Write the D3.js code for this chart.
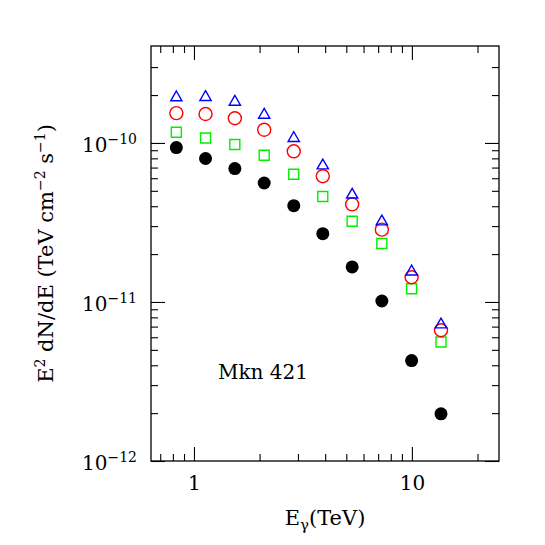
<!DOCTYPE html>
<html>
<head>
<meta charset="utf-8">
<script src="https://cdn.jsdelivr.net/npm/d3@7"></script>
<style>
  body { margin: 0; background: #fff; }
  svg text { font-family: "DejaVu Serif", serif; fill: #000; }
</style>
</head>
<body>
<div id="chart"></div>
<script>
// ---------------- data ----------------
const energies = [0.83, 1.13, 1.54, 2.10, 2.87, 3.90, 5.32, 7.28, 9.97, 13.6];
const fluxBlack = [9.35e-11, 7.98e-11, 6.90e-11, 5.60e-11, 4.03e-11, 2.69e-11, 1.66e-11, 1.014e-11, 4.28e-12, 1.98e-12];
const fluxGreen = [1.167e-10, 1.074e-10, 9.77e-11, 8.37e-11, 6.35e-11, 4.60e-11, 3.22e-11, 2.33e-11, 1.21e-11, 5.60e-12];
const fluxRed   = [1.54e-10, 1.52e-10, 1.43e-10, 1.21e-10, 8.86e-11, 6.18e-11, 4.11e-11, 2.85e-11, 1.43e-11, 6.64e-12];
const fluxBlue  = [1.93e-10, 1.94e-10, 1.81e-10, 1.50e-10, 1.07e-10, 7.20e-11, 4.72e-11, 3.20e-11, 1.55e-11, 7.20e-12];
const xMajor = [1, 10];
const xMinor = [0.7, 0.8, 0.9, 2, 3, 4, 5, 6, 7, 8, 9, 20];
const yMajor = [1e-12, 1e-11, 1e-10];
const yMinor = [2e-12, 3e-12, 4e-12, 5e-12, 6e-12, 7e-12, 8e-12, 9e-12,
                2e-11, 3e-11, 4e-11, 5e-11, 6e-11, 7e-11, 8e-11, 9e-11,
                2e-10, 3e-10];
const yExponents = [-12, -11, -10];
const sourceName = "Mkn 421";

// ---------------- layout ----------------
const W = 545, H = 545;
const margin = { top: 46, right: 46, bottom: 84, left: 151 };
const width = W - margin.left - margin.right;
const height = H - margin.top - margin.bottom;

const svg = d3.select("#chart").append("svg")
    .attr("width", W).attr("height", H);
const g = svg.append("g")
    .attr("transform", "translate(" + margin.left + "," + margin.top + ")");

// ---------------- scales ----------------
const x = d3.scaleLog().domain([0.635, 25.1]).range([0, width]);
const y = d3.scaleLog().domain([1e-12, 4.07e-10]).range([height, 0]);

// ---------------- axes (ticks inward on all sides) ----------------
function styleAxis(sel) {
    sel.select(".domain").remove();
    sel.selectAll("line").attr("stroke", "#000").attr("stroke-width", 1.1);
}
const MAJ = 14, MIN = 7;

g.append("g").attr("transform", "translate(0," + height + ")")
    .call(d3.axisBottom(x).tickValues(xMajor).tickSize(-MAJ).tickPadding(15)
        .tickFormat(d3.format("d")))
    .call(styleAxis)
    .selectAll("text").style("font-size", "20px").attr("font-family", null);
g.append("g").attr("transform", "translate(0," + height + ")")
    .call(d3.axisBottom(x).tickValues(xMinor).tickSize(-MIN).tickFormat(""))
    .call(styleAxis);
g.append("g")
    .call(d3.axisTop(x).tickValues(xMajor).tickSize(-MAJ).tickFormat(""))
    .call(styleAxis);
g.append("g")
    .call(d3.axisTop(x).tickValues(xMinor).tickSize(-MIN).tickFormat(""))
    .call(styleAxis);

g.append("g")
    .call(d3.axisLeft(y).tickValues(yMajor).tickSize(-MAJ).tickFormat(""))
    .call(styleAxis);
g.append("g")
    .call(d3.axisLeft(y).tickValues(yMinor).tickSize(-MIN).tickFormat(""))
    .call(styleAxis);
g.append("g").attr("transform", "translate(" + width + ",0)")
    .call(d3.axisRight(y).tickValues(yMajor).tickSize(-MAJ).tickFormat(""))
    .call(styleAxis);
g.append("g").attr("transform", "translate(" + width + ",0)")
    .call(d3.axisRight(y).tickValues(yMinor).tickSize(-MIN).tickFormat(""))
    .call(styleAxis);

// y tick labels 10^n
const yLab = g.append("g").selectAll("text")
    .data(yExponents).enter().append("text")
    .attr("x", -14)
    .attr("y", function(d) { return y(Math.pow(10, d)) + 9; })
    .attr("text-anchor", "end")
    .style("font-size", "20px");
yLab.append("tspan").text("10");
yLab.append("tspan").attr("dy", -8).style("font-size", "14px")
    .text(function(d) { return "\u2212" + Math.abs(d); });

// frame
g.append("rect")
    .attr("width", width).attr("height", height)
    .attr("fill", "none").attr("stroke", "#000").attr("stroke-width", 1.3);

// ---------------- markers ----------------
const pts = function(arr) {
    return arr.map(function(v, i) { return { e: energies[i], f: v }; });
};

g.append("g").selectAll("circle").data(pts(fluxBlack)).enter().append("circle")
    .attr("cx", function(d) { return x(d.e); })
    .attr("cy", function(d) { return y(d.f); })
    .attr("r", 6.5).attr("fill", "#000");

g.append("g").selectAll("path").data(pts(fluxGreen)).enter().append("path")
    .attr("d", d3.symbol(d3.symbolSquare, 100))
    .attr("transform", function(d) { return "translate(" + x(d.e) + "," + y(d.f) + ")"; })
    .attr("fill", "none").attr("stroke", "#00ee00").attr("stroke-width", 1.4);

g.append("g").selectAll("circle").data(pts(fluxRed)).enter().append("circle")
    .attr("cx", function(d) { return x(d.e); })
    .attr("cy", function(d) { return y(d.f); })
    .attr("r", 6.5).attr("fill", "none").attr("stroke", "#ff0000").attr("stroke-width", 1.4);

g.append("g").selectAll("path").data(pts(fluxBlue)).enter().append("path")
    .attr("d", d3.symbol(d3.symbolTriangle, 55))
    .attr("transform", function(d) { return "translate(" + x(d.e) + "," + y(d.f) + ")"; })
    .attr("fill", "none").attr("stroke", "#0000ff").attr("stroke-width", 1.4);

// ---------------- labels ----------------
g.append("text")
    .attr("x", 67).attr("y", 333)
    .style("font-size", "20px")
    .text(sourceName);

const xt = g.append("text")
    .attr("x", width / 2).attr("y", height + 64)
    .attr("text-anchor", "middle")
    .style("font-size", "21px");
xt.append("tspan").text("E");
xt.append("tspan").attr("dy", 5).style("font-size", "15px").text("\u03b3");
xt.append("tspan").attr("dy", -5).text("(TeV)");

const yt = g.append("text")
    .attr("transform", "translate(-98," + (height / 2) + ") rotate(-90)")
    .attr("text-anchor", "middle")
    .style("font-size", "21px");
yt.append("tspan").text("E");
yt.append("tspan").attr("dy", -8).style("font-size", "14px").text("2");
yt.append("tspan").attr("dy", 8).text(" dN/dE (TeV cm");
yt.append("tspan").attr("dy", -8).style("font-size", "14px").text("\u22122");
yt.append("tspan").attr("dy", 8).text(" s");
yt.append("tspan").attr("dy", -8).style("font-size", "14px").text("\u22121");
yt.append("tspan").attr("dy", 8).text(")");
</script>
</body>
</html>
